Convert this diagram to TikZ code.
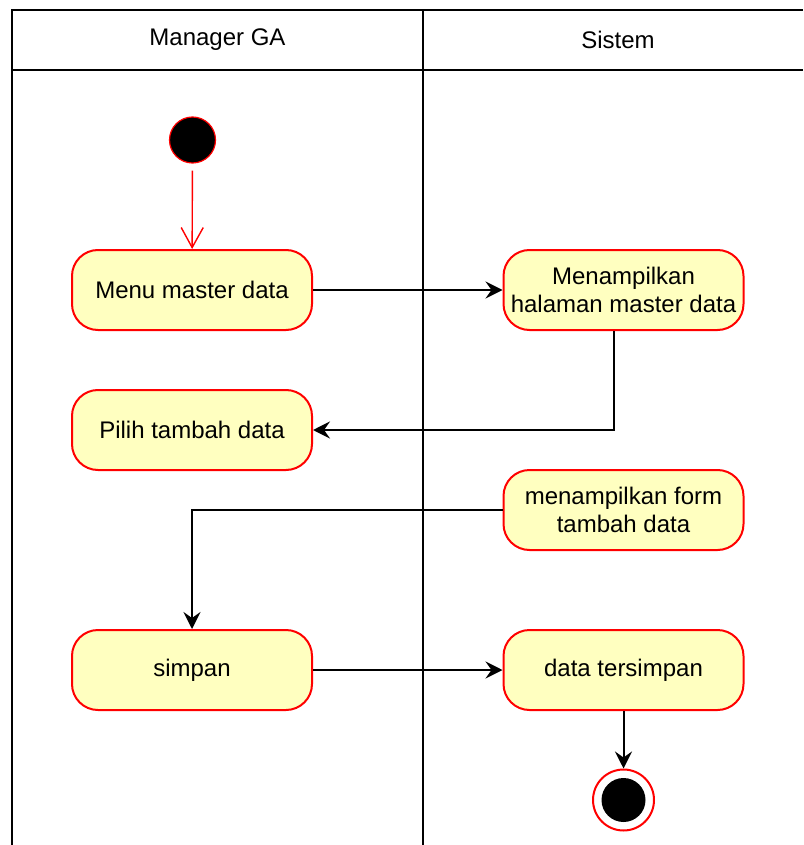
\documentclass[tikz,border=0pt]{standalone}
\usepackage{fontspec}
\setmainfont{Liberation Sans}
\usetikzlibrary{arrows.meta}
\definecolor{actfill}{HTML}{FFFFC0}
\definecolor{actline}{HTML}{FF0000}
\begin{document}
\begin{tikzpicture}[x=0.5pt,y=-0.5pt,
  font=\fontsize{12}{14.4}\selectfont,
  lane/.style={line width=1pt,draw=black},
  activity/.style={rectangle,rounded corners=13pt,draw=actline,fill=actfill,line width=1pt,
    minimum width=120pt,minimum height=40pt,align=center,inner sep=1pt,text=black},
  startnode/.style={circle,fill=black,draw=actline,line width=0.6pt,minimum size=23pt,inner sep=0pt},
  endouter/.style={circle,fill=white,draw=actline,line width=1pt,minimum size=30.5pt,inner sep=0pt},
  endinner/.style={circle,fill=black,minimum size=22pt,inner sep=0pt},
  arr/.style={line width=1pt,-{Stealth[length=8.5pt,width=8.5pt,inset=3pt]}},
  redarr/.style={line width=0.7pt,draw=actline,-{Straight Barb[length=10pt,width=11pt,line width=0.7pt]}}
]
\useasboundingbox (0,0) rectangle (803,845);
% swimlanes
\draw[lane] (12,845) -- (12,10) -- (803,10);
\draw[lane] (12,70) -- (803,70);
\draw[lane] (423,10) -- (423,845);
\node (h1) at (217.5,40) {Manager GA};
\node (h2) at (618,40) {Sistem};
% nodes
\node[startnode] (start) at (192.5,140) {};
\node[activity] (menu) at (192,290) {Menu master data};
\node[activity] (showmaster) at (623.5,290) {Menampilkan\\halaman master data};
\node[activity] (pilih) at (192,430) {Pilih tambah data};
\node[activity] (form) at (623.5,510) {menampilkan form\\tambah data};
\node[activity] (simpan) at (192,670) {simpan};
\node[activity] (saved) at (623.5,670) {data tersimpan};
\node[endouter] (endo) at (623.5,800) {};
\node[endinner] (endi) at (623.5,800) {};
% connectors
\draw[redarr,shorten <=3.5pt] (start) -- (menu);
\draw[arr] (menu) -- (showmaster);
\draw[arr] ([xshift=-4.75pt]showmaster.south) |- (pilih.east);
\draw[arr] (form.west) -| (simpan.north);
\draw[arr] (simpan) -- (saved);
\draw[arr] (saved) -- (endo);
\end{tikzpicture}
\end{document}
